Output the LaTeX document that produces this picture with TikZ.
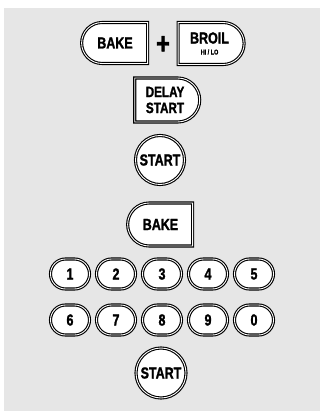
\documentclass[tikz,border=0pt]{standalone}
\usepackage{fontspec}
\newfontfamily\keyfont{Liberation Sans Bold}[FakeStretch=0.78, FakeBold=1.4]
\usetikzlibrary{shapes.misc}
\definecolor{PanelGrey}{RGB}{230,230,230}

\begin{document}
\begin{tikzpicture}[x=1pt,y=-1pt,
  padkey/.style={draw=black, double=white, double distance=0.9pt, line width=1.1pt,
    fill=white, inner sep=0pt, font=\keyfont\fontsize{16}{14}\selectfont, align=center},
  leftkey/.style={padkey, rounded rectangle, rounded rectangle east arc=none,
    minimum width=66pt, minimum height=41pt},
  rightkey/.style={padkey, rounded rectangle, rounded rectangle west arc=none,
    minimum width=66pt, minimum height=42pt},
  numkey/.style={padkey, rounded rectangle, minimum width=39pt, minimum height=30pt},
  roundkey/.style={padkey, circle, minimum size=49pt}]

\def\colx{160}
\def\rowa{274}
\def\rowb{320}

% Panel
\useasboundingbox (0,0) rectangle (320,411);
\fill[PanelGrey] (4,8) rectangle (320,411);

% --- Bake + Broil ---
\node[leftkey] (bakeA) at (115,43) {BAKE};
\node[font=\keyfont\fontsize{30}{30}\selectfont] (plus) at (163,45) {+};
\node[rightkey] (broil) at (209.5,43.5) {BROIL\\[-3pt]{\fontsize{7}{7}\selectfont HI / LO}};

% --- Delay start ---
\node[rightkey, minimum width=65pt, minimum height=44pt,
  font=\keyfont\fontsize{15}{16}\selectfont] (delay) at (165,100) {DELAY\\START};

% --- Start ---
\node[roundkey] (startA) at (\colx,160) {START};

% --- Bake ---
\node[leftkey, minimum width=65pt, minimum height=43pt] (bakeB) at (160.5,224.5) {BAKE};

% --- Number pad ---
\foreach \n [count=\i from 0] in {1,2,3,4,5}
  \node[numkey] (num\n) at (70+46*\i,\rowa) {\n};
\foreach \n [count=\i from 0] in {6,7,8,9,0}
  \node[numkey] (num\n) at (70+46*\i,\rowb) {\n};

% --- Start ---
\node[roundkey, minimum size=50pt] (startB) at (161,373) {START};

\end{tikzpicture}
\end{document}
